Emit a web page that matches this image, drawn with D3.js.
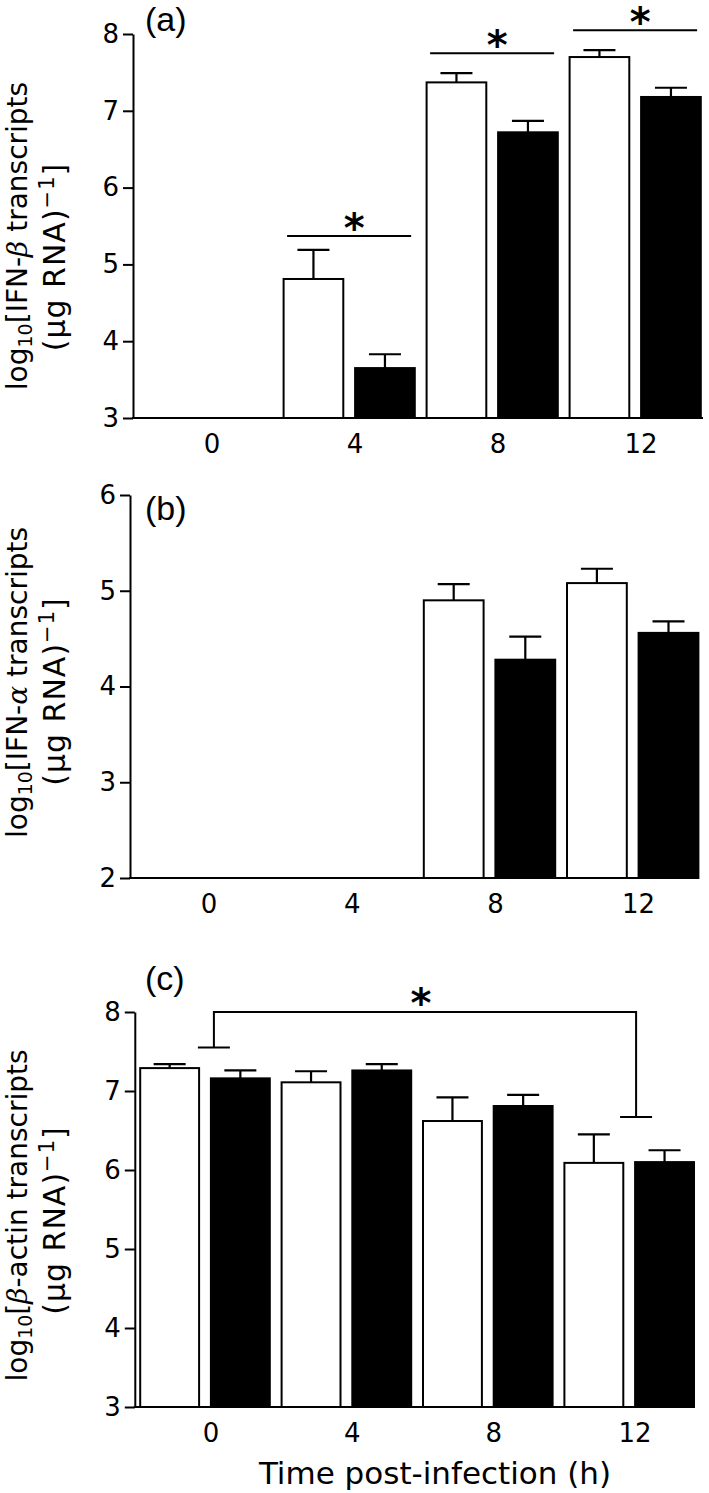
<!DOCTYPE html>
<html>
<head>
<meta charset="utf-8">
<script src="https://cdn.jsdelivr.net/npm/d3@7"></script>
<style>
  body { margin: 0; background: #fff; }
  text { font-family: "DejaVu Sans", "Liberation Sans", Arial, sans-serif; fill: #000; }
</style>
</head>
<body>
<div id="chart"></div>
<script>
// time points (h)
var timeLabels = ["0", "4", "8", "12"];

// (a) IFN-beta, log10 transcripts; null = no bar
var ifnbOpen     = [null, 4.81, 7.37, 7.70];
var ifnbOpenErr  = [null, 0.38, 0.12, 0.09];
var ifnbFilled   = [null, 3.65, 6.72, 7.18];
var ifnbFilledErr= [null, 0.18, 0.15, 0.12];
var ifnbTicks    = [3, 4, 5, 6, 7, 8];
var ifnbSig      = [{ time: "4", level: 5.37 }, { time: "8", level: 7.75 }, { time: "12", level: 8.05 }];

// (b) IFN-alpha
var ifnaOpen     = [null, null, 4.90, 5.08];
var ifnaOpenErr  = [null, null, 0.17, 0.15];
var ifnaFilled   = [null, null, 4.28, 4.56];
var ifnaFilledErr= [null, null, 0.24, 0.12];
var ifnaTicks    = [2, 3, 4, 5, 6];

// (c) beta-actin
var actinOpen     = [7.29, 7.11, 6.62, 6.09];
var actinOpenErr  = [0.05, 0.14, 0.30, 0.36];
var actinFilled   = [7.16, 7.26, 6.81, 6.10];
var actinFilledErr= [0.10, 0.08, 0.14, 0.15];
var actinTicks    = [3, 4, 5, 6, 7, 8];
var actinBracket  = { from: "0", to: "12", top: 8.0, fromEnd: 7.55, toEnd: 6.67 };

var svg = d3.select("#chart").append("svg")
    .attr("width", 709)
    .attr("height", 1493);

function rows(open, openErr, filled, filledErr) {
    var out = [];
    for (var i = 0; i < timeLabels.length; i++) {
        if (open[i] != null) out.push({ t: timeLabels[i], s: "open", v: open[i], e: openErr[i] });
        if (filled[i] != null) out.push({ t: timeLabels[i], s: "filled", v: filled[i], e: filledErr[i] });
    }
    return out;
}

function drawPanel(p) {
    var g = svg.append("g");

    var y = d3.scaleLinear().domain(p.domain).range([p.yBottom, p.yTop]);
    var x = d3.scaleBand().domain(timeLabels)
        .range([p.xStart, p.xStart + 4 * p.group]).padding(0);
    var gap = 11.8;
    var xs = d3.scaleBand().domain(["open", "filled"])
        .range([0, p.group - gap]).paddingInner(gap / (p.group / 2)).paddingOuter(0);

    var data = rows(p.open, p.openErr, p.filled, p.filledErr);

    // bars
    g.selectAll(".bar")
        .data(data)
        .enter().append("rect")
        .attr("class", "bar")
        .attr("x", function(d) { return x(d.t) + xs(d.s); })
        .attr("y", function(d) { return y(d.v); })
        .attr("width", xs.bandwidth())
        .attr("height", function(d) { return y(p.domain[0]) - y(d.v); })
        .attr("fill", function(d) { return d.s == "open" ? "#fff" : "#000"; })
        .attr("stroke", "#000")
        .attr("stroke-width", 2);

    // error bars (upper only)
    var capW = 32;
    g.selectAll(".err")
        .data(data)
        .enter().append("path")
        .attr("class", "err")
        .attr("d", function(d) {
            var cx = x(d.t) + xs(d.s) + xs.bandwidth() / 2;
            var y0 = y(d.v), y1 = y(d.v + d.e);
            return "M" + cx + "," + y0 + "V" + y1 + "M" + (cx - capW / 2) + "," + y1 + "H" + (cx + capW / 2);
        })
        .attr("fill", "none")
        .attr("stroke", "#000")
        .attr("stroke-width", 2.2);

    // y axis
    var ya = g.append("g")
        .attr("transform", "translate(" + p.axisX + ",0)")
        .call(d3.axisLeft(y).tickValues(p.ticks).tickSize(10).tickSizeOuter(0).tickPadding(4)
            .tickFormat(d3.format("d")));
    ya.select(".domain").attr("stroke-width", 2);
    ya.selectAll(".tick line").attr("stroke-width", 2);
    ya.selectAll(".tick text").attr("font-size", 26).style("font-family", "DejaVu Sans");

    // x axis baseline + labels
    g.append("line")
        .attr("x1", p.axisX - 1).attr("x2", p.axisEnd)
        .attr("y1", p.yBottom).attr("y2", p.yBottom)
        .attr("stroke", "#000").attr("stroke-width", 2);
    var xa = g.append("g")
        .attr("transform", "translate(0," + p.yBottom + ")")
        .call(d3.axisBottom(x).tickSize(0).tickPadding(17));
    xa.select(".domain").remove();
    xa.selectAll(".tick text").attr("font-size", 26).style("font-family", "DejaVu Sans");

    // panel letter
    g.append("text")
        .attr("x", 145).attr("y", p.letterY)
        .attr("font-size", 34)
        .style("font-family", "Liberation Sans, Arial, sans-serif")
        .text(p.letter);

    // y label, two lines
    var mid = (p.yTop + p.yBottom) / 2;
    var l1 = g.append("text")
        .attr("transform", "translate(27," + (mid + p.lab1) + ") rotate(-90)")
        .attr("text-anchor", "middle")
        .attr("font-size", 28);
    l1.append("tspan").text("log");
    l1.append("tspan").attr("font-size", 19).attr("dy", 5).text("10");
    l1.append("tspan").attr("dy", -5).text("[" + p.pre);
    if (p.greek) {
        l1.append("tspan").style("font-family", "DejaVu Serif").attr("font-style", "italic").text(p.greek);
    }
    l1.append("tspan").text(p.post);

    var l2 = g.append("text")
        .attr("transform", "translate(65," + (mid + p.lab2) + ") rotate(-90)")
        .attr("text-anchor", "middle")
        .attr("font-size", 30)
        .attr("letter-spacing", 1);
    l2.append("tspan").text("(\u03bcg RNA)");
    l2.append("tspan").attr("font-size", 21).attr("dy", -11).text("\u22121");
    l2.append("tspan").attr("dy", 11).text("]");

    return { g: g, x: x, y: y };
}

function star(g, cx, cy) {
    g.append("text")
        .attr("x", cx).attr("y", cy + 22)
        .attr("text-anchor", "middle")
        .attr("font-size", 40)
        .attr("font-weight", "bold")
        .text("*");
}

// (a)
var pa = drawPanel({
    letter: "(a)", letterY: 31,
    domain: [3, 8], ticks: ifnbTicks, yTop: 34, yBottom: 418,
    axisX: 133, axisEnd: 703, xStart: 140.6, group: 143,
    open: ifnbOpen, openErr: ifnbOpenErr, filled: ifnbFilled, filledErr: ifnbFilledErr,
    pre: "IFN-", greek: "\u03b2", post: " transcripts", lab1: 10, lab2: 31
});
ifnbSig.forEach(function(s) {
    var cx = pa.x(s.time) + pa.x.bandwidth() / 2 - 6;
    var ly = pa.y(s.level);
    pa.g.append("line")
        .attr("x1", cx - 62).attr("x2", cx + 62)
        .attr("y1", ly).attr("y2", ly)
        .attr("stroke", "#000").attr("stroke-width", 2);
    star(pa.g, cx + 5, ly - 16);
});

// (b)
drawPanel({
    letter: "(b)", letterY: 520,
    domain: [2, 6], ticks: ifnaTicks, yTop: 495, yBottom: 878,
    axisX: 130, axisEnd: 699, xStart: 137.4, group: 143.2,
    open: ifnaOpen, openErr: ifnaOpenErr, filled: ifnaFilled, filledErr: ifnaFilledErr,
    pre: "IFN-", greek: "\u03b1", post: "  transcripts", lab1: -4, lab2: 5
});

// (c)
var pc = drawPanel({
    letter: "(c)", letterY: 990,
    domain: [3, 8], ticks: actinTicks, yTop: 1012, yBottom: 1407,
    axisX: 134.8, axisEnd: 694, xStart: 140.2, group: 141.4,
    open: actinOpen, openErr: actinOpenErr, filled: actinFilled, filledErr: actinFilledErr,
    pre: "", greek: "\u03b2", post: "-actin transcripts", lab1: 6, lab2: 11
});
var bx1 = pc.x(actinBracket.from) + pc.x.bandwidth() / 2 + 3;
var bx2 = pc.x(actinBracket.to) + pc.x.bandwidth() / 2 + 1;
var bTop = pc.y(actinBracket.top);
pc.g.append("path")
    .attr("d", "M" + bx1 + "," + pc.y(actinBracket.fromEnd) + "V" + bTop + "H" + bx2 + "V" + pc.y(actinBracket.toEnd)
        + "M" + (bx1 - 16) + "," + pc.y(actinBracket.fromEnd) + "H" + (bx1 + 16)
        + "M" + (bx2 - 16) + "," + pc.y(actinBracket.toEnd) + "H" + (bx2 + 16))
    .attr("fill", "none").attr("stroke", "#000").attr("stroke-width", 2);
star(pc.g, 421, 995);

// x title
svg.append("text")
    .attr("x", 435).attr("y", 1484)
    .attr("text-anchor", "middle")
    .attr("font-size", 31)
    .text("Time post-infection (h)");
</script>
</body>
</html>
